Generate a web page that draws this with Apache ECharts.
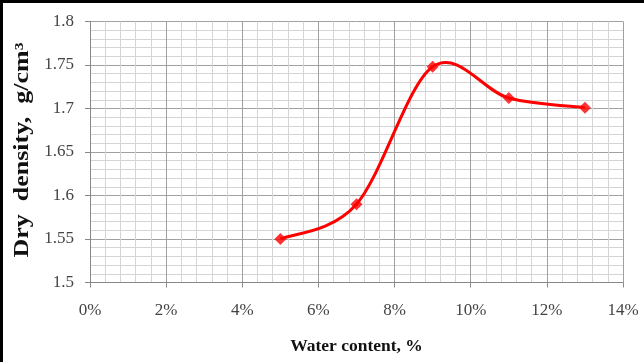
<!DOCTYPE html>
<html>
<head>
<meta charset="utf-8">
<script src="https://cdn.jsdelivr.net/npm/echarts@6/dist/echarts.min.js"></script>
<style>
html,body{margin:0;padding:0;background:#fff;}
#c{width:644px;height:362px;}
</style>
</head>
<body>
<div id="c"></div>
<script>
const waterContent = [5, 7, 9, 11, 13];
const dryDensity = [1.55, 1.59, 1.748, 1.712, 1.701];
const xTicks = [0, 2, 4, 6, 8, 10, 12, 14];
const yTicks = [1.5, 1.55, 1.6, 1.65, 1.7, 1.75, 1.8];
const xTitle = 'Water content, %';
const yTitle = 'Dry  density,  g/cm³';

const chart = echarts.init(document.getElementById('c'));
const font = '"Liberation Serif", "Times New Roman", serif';
const points = waterContent.map((x, i) => [x, dryDensity[i]]);

// Excel-style smoothed line (Catmull-Rom / Bezier with 1/6 tangents), through the axis scales
function renderSmooth(params, api) {
  if (params.dataIndex !== 0) return null;
  const p = points.map(d => api.coord(d));
  const n = p.length;
  let d = 'M' + p[0][0] + ' ' + p[0][1];
  for (let i = 0; i < n - 1; i++) {
    const p0 = p[Math.max(i - 1, 0)], p1 = p[i], p2 = p[i + 1], p3 = p[Math.min(i + 2, n - 1)];
    const c1x = p1[0] + (p2[0] - p0[0]) / 6, c1y = p1[1] + (p2[1] - p0[1]) / 6;
    const c2x = p2[0] - (p3[0] - p1[0]) / 6, c2y = p2[1] - (p3[1] - p1[1]) / 6;
    d += ' C' + c1x + ' ' + c1y + ' ' + c2x + ' ' + c2y + ' ' + p2[0] + ' ' + p2[1];
  }
  return {
    type: 'path',
    shape: { pathData: d },
    style: { fill: 'none', stroke: '#ff0000', lineWidth: 3, lineJoin: 'round' }
  };
}

chart.setOption({
  animation: false,
  backgroundColor: '#fff',
  grid: { left: 90, right: 21, top: 21.5, bottom: 79.5 },
  graphic: [
    { type: 'rect', shape: { x: 0, y: 0, width: 644, height: 3 }, style: { fill: '#000' } },
    { type: 'rect', shape: { x: 0, y: 0, width: 3, height: 362 }, style: { fill: '#000' } },
    {
      type: 'text', x: 23, y: 150, rotation: Math.PI / 2, scaleX: 1.3,
      style: { text: yTitle, font: 'bold 20px ' + font, fill: '#111', align: 'center', verticalAlign: 'middle' }
    }
  ],
  xAxis: {
    type: 'value',
    min: xTicks[0], max: xTicks[xTicks.length - 1], interval: 2,
    name: xTitle,
    nameLocation: 'middle', nameGap: 55,
    nameTextStyle: { fontFamily: font, fontWeight: 'bold', fontSize: 17.5, color: '#111' },
    axisLine: { show: true, lineStyle: { color: '#888', width: 1 } },
    axisTick: { show: true, length: 5, lineStyle: { color: '#888' } },
    axisLabel: { formatter: '{value}%', fontFamily: font, fontSize: 17, color: '#444', margin: 20 },
    splitLine: { show: true, lineStyle: { color: '#a0a0a0', width: 1 } },
    minorTick: { show: false, splitNumber: 5 },
    minorSplitLine: { show: true, lineStyle: { color: '#d4d4d4', width: 1 } }
  },
  yAxis: {
    type: 'value',
    min: yTicks[0], max: yTicks[yTicks.length - 1], interval: 0.05,
    axisLine: { show: true, lineStyle: { color: '#888', width: 1 } },
    axisTick: { show: true, length: 5, lineStyle: { color: '#888' } },
    axisLabel: { fontFamily: font, fontSize: 17, color: '#444', margin: 16 },
    splitLine: { show: true, lineStyle: { color: '#a0a0a0', width: 1 } },
    minorTick: { show: false, splitNumber: 5 },
    minorSplitLine: { show: true, lineStyle: { color: '#d4d4d4', width: 1 } }
  },
  series: [
    {
      type: 'custom',
      coordinateSystem: 'cartesian2d',
      renderItem: renderSmooth,
      data: points,
      z: 2,
      silent: true
    },
    {
      type: 'scatter',
      data: points,
      symbol: 'diamond',
      symbolSize: 12,
      itemStyle: { color: '#ff0000' },
      z: 3
    }
  ]
});
</script>
</body>
</html>
